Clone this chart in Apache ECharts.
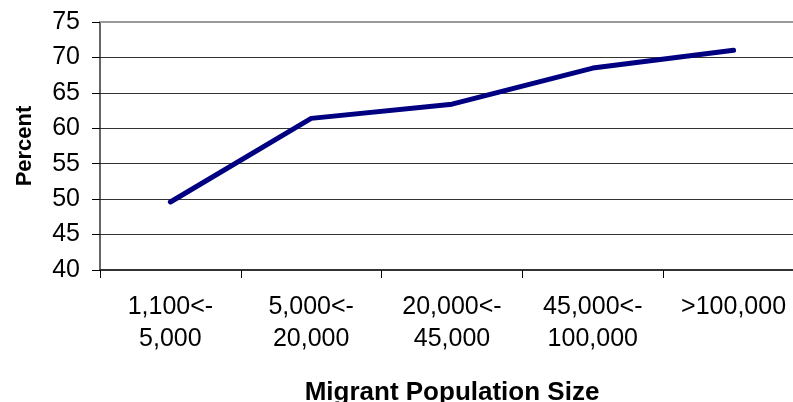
<!DOCTYPE html>
<html>
<head>
<meta charset="utf-8">
<script src="https://cdn.jsdelivr.net/npm/echarts@6/dist/echarts.min.js"></script>
<style>
  html, body { margin: 0; padding: 0; background: #fff; }
  #chart { width: 793px; height: 402px; }
</style>
</head>
<body>
<div id="chart"></div>
<script>
// Share of respondents by size of the migrant population
const categories = ['1,100<-\n5,000', '5,000<-\n20,000', '20,000<-\n45,000', '45,000<-\n100,000', '>100,000'];
const percentValues = [49.6, 61.4, 63.4, 68.5, 71.0];
const yMin = 40, yMax = 75, yStep = 5;

const font = '"Liberation Sans", Arial, sans-serif';
const chart = echarts.init(document.getElementById('chart'), null, { renderer: 'canvas' });

chart.setOption({
  animation: false,
  backgroundColor: '#ffffff',
  grid: { left: 100, top: 22, width: 704, height: 248, outerBoundsMode: 'none', containLabel: false },
  xAxis: [{
    type: 'category',
    data: categories,
    boundaryGap: true,
    name: 'Migrant Population Size',
    nameLocation: 'middle',
    nameGap: 110,
    nameMoveOverlap: false,
    nameTextStyle: { fontFamily: font, fontSize: 26, fontWeight: 'bold', color: '#000' },
    axisLine: { lineStyle: { color: '#333', width: 2 } },
    axisTick: { show: true, length: 8, lineStyle: { color: '#000', width: 1 } },
    axisLabel: { fontFamily: font, fontSize: 25, color: '#000', margin: 21, lineHeight: 32, interval: 0 },
    splitLine: { show: false }
  }, {
    // plain top edge of the plot area
    type: 'category',
    position: 'top',
    data: categories,
    axisLine: { show: true, lineStyle: { color: '#999', width: 2 } },
    axisTick: { show: false },
    axisLabel: { show: false },
    splitLine: { show: false }
  }],
  yAxis: {
    type: 'value',
    min: yMin, max: yMax, interval: yStep,
    name: 'Percent',
    nameLocation: 'middle',
    nameGap: 64,
    nameMoveOverlap: false,
    nameRotate: 90,
    nameTextStyle: { fontFamily: font, fontSize: 22, fontWeight: 'bold', color: '#000' },
    axisLine: { show: true, lineStyle: { color: '#333', width: 1.5 } },
    axisTick: { show: true, length: 8, lineStyle: { color: '#000', width: 1 } },
    axisLabel: { fontFamily: font, fontSize: 25, color: '#000', margin: 20 },
    splitLine: { show: true, lineStyle: { color: '#333', width: 1 } }
  },
  series: [{
    type: 'line',
    xAxisIndex: 0,
    data: percentValues,
    symbol: 'none',
    lineStyle: { color: '#000080', width: 5, cap: 'round', join: 'round' },
    itemStyle: { color: '#000080' }
  }]
});
</script>
</body>
</html>
